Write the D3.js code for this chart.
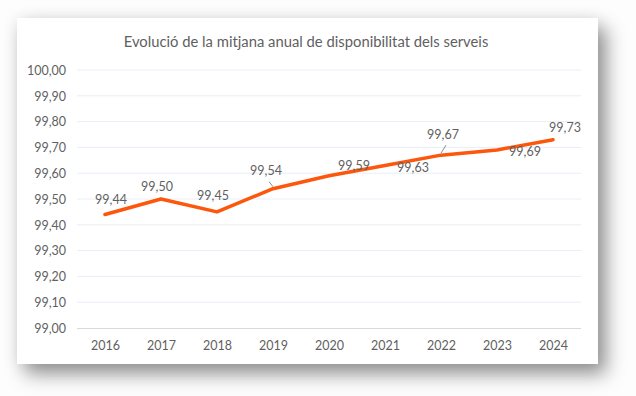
<!DOCTYPE html>
<html>
<head>
<meta charset="utf-8">
<script src="https://cdn.jsdelivr.net/npm/d3@7"></script>
<style>
  html, body { margin: 0; padding: 0; background: #fdfdfd; }
  body { width: 636px; height: 396px; position: relative; overflow: hidden; }
  #card {
    position: absolute; left: 17px; top: 18px; width: 581px; height: 346px;
    background: #fff;
    box-shadow: 8px 10px 18px rgba(0,0,0,0.42), 0 0 16px rgba(0,0,0,0.07);
  }
  svg { position: absolute; left: 0; top: 0; }
  text { font-family: Lato, "Open Sans", sans-serif; fill: #5f5f5f; }
</style>
</head>
<body>
<div id="card"></div>
<script>
// chart data
const years = ['2016', '2017', '2018', '2019', '2020', '2021', '2022', '2023', '2024'];
const values = [99.44, 99.50, 99.45, 99.54, 99.59, 99.63, 99.67, 99.69, 99.73];
const yTicks = [99.0, 99.1, 99.2, 99.3, 99.4, 99.5, 99.6, 99.7, 99.8, 99.9, 100.0];
const titleText = 'Evolució de la mitjana anual de disponibilitat dels serveis';

// where each value label sits relative to its point (leader = draw a small line)
const labelOffsets = [
  { dx: 6, dy: -15 }, { dx: -4, dy: -12 }, { dx: -4, dy: -16 },
  { dx: -7, dy: -18, leader: true }, { dx: 25, dy: -10 }, { dx: 28, dy: 2 },
  { dx: 2, dy: -21, leader: true }, { dx: 28, dy: 2 }, { dx: 12, dy: -12 }
];

const fmt = d => d3.format('.2f')(d).replace('.', ',');

const width = 636;
const height = 396;
const plot = { left: 77, right: 581, top: 70, bottom: 328 };

const svg = d3.select('body').append('svg')
  .attr('width', width)
  .attr('height', height);

const xScale = d3.scalePoint()
  .domain(years)
  .range([plot.left, plot.right])
  .padding(0.5);

const yScale = d3.scaleLinear()
  .domain([99, 100])
  .range([plot.bottom, plot.top]);

// title
svg.append('text')
  .attr('x', 306)
  .attr('y', 47)
  .attr('text-anchor', 'middle')
  .style('font-size', '14.8px')
  .text(titleText);

// gridlines
svg.append('g').selectAll('line').data(yTicks.slice(1))
  .enter().append('line')
  .attr('x1', plot.left)
  .attr('x2', plot.right)
  .attr('y1', d => yScale(d))
  .attr('y2', d => yScale(d))
  .attr('stroke', '#e8eef6')
  .attr('stroke-width', 1);

// y axis
const yAxis = d3.axisLeft(yScale)
  .tickValues(yTicks)
  .tickFormat(fmt)
  .tickSize(0)
  .tickPadding(11);

const yAxisG = svg.append('g')
  .attr('transform', `translate(${plot.left}, 0)`)
  .call(yAxis);
yAxisG.select('.domain').remove();
yAxisG.selectAll('text')
  .style('font-size', '12.5px')
  .attr('fill', '#5f5f5f')
  .attr('dy', '0.35em');

// x axis
const xAxis = d3.axisBottom(xScale)
  .tickSize(0)
  .tickPadding(13);

const xAxisG = svg.append('g')
  .attr('transform', `translate(0, ${plot.bottom})`)
  .call(xAxis);
xAxisG.select('.domain')
  .attr('d', `M${plot.left},0.5H${plot.right}`)
  .attr('stroke', '#d9d9d9');
xAxisG.selectAll('text')
  .style('font-size', '12.5px')
  .attr('fill', '#5f5f5f');

// line
const line = d3.line()
  .x((d, i) => xScale(years[i]))
  .y(d => yScale(d));

svg.append('path')
  .datum(values)
  .attr('d', line)
  .attr('fill', 'none')
  .attr('stroke', '#fc570d')
  .attr('stroke-width', 3.5)
  .attr('stroke-linejoin', 'round')
  .attr('stroke-linecap', 'round');

// value labels
const labels = svg.append('g');
values.forEach((v, i) => {
  const px = xScale(years[i]);
  const py = yScale(v);
  const o = labelOffsets[i];
  if (o.leader) {
    labels.append('line')
      .attr('x1', px + o.dx + 3)
      .attr('y1', py + o.dy + 11)
      .attr('x2', px)
      .attr('y2', py - 2)
      .attr('stroke', '#8c8c8c')
      .attr('stroke-width', 1);
  }
  labels.append('text')
    .attr('x', px + o.dx)
    .attr('y', py + o.dy)
    .attr('dy', '0.35em')
    .attr('text-anchor', 'middle')
    .style('font-size', '12.5px')
    .text(fmt(v));
});
</script>
</body>
</html>
